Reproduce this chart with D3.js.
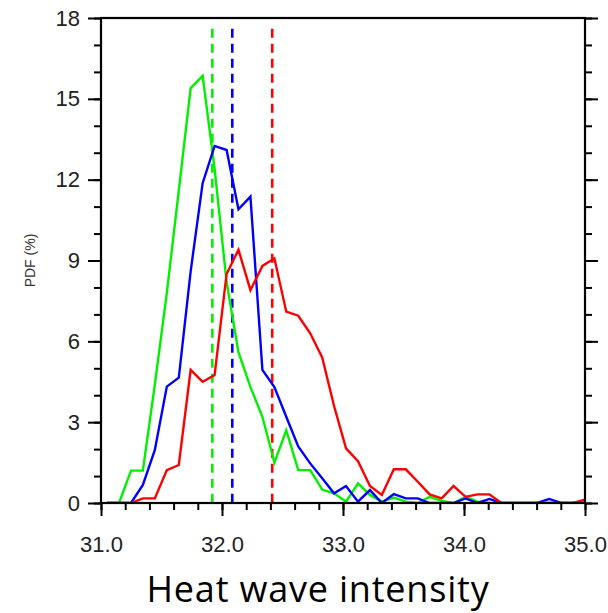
<!DOCTYPE html>
<html lang="en">
<head>
  <meta charset="UTF-8">
  <title>Heat wave intensity PDF</title>
  <style>
    body { margin: 0; background: #fff; }
    svg { display: block; }
  </style>
</head>
<body>
  <svg id="svg" width="608" height="613"></svg>

  <script src="https://d3js.org/d3.v7.min.js"></script>
  <script>
    // bin centres (intensity)
    const binX = [
      31.050, 31.149, 31.248, 31.346, 31.445, 31.544, 31.643, 31.741, 31.840, 31.939,
      32.038, 32.136, 32.235, 32.334, 32.433, 32.531, 32.630, 32.729, 32.828, 32.926,
      33.025, 33.124, 33.223, 33.321, 33.420, 33.519, 33.618, 33.716, 33.815, 33.914,
      34.013, 34.111, 34.210, 34.309, 34.408, 34.506, 34.605, 34.704, 34.803, 34.901,
      35.000
    ]

    // PDF (%) of each run
    const greenPdf = [
      0, 0, 1.2, 1.2, 4.4, 7.8, 11.6, 15.4, 15.85, 12.4,
      8.2, 5.6, 4.3, 3.2, 1.5, 2.7, 1.22, 1.22, 0.5, 0.36,
      0.05, 0.73, 0.3, 0.05, 0.2, 0.05, 0, 0.23, 0.08, 0,
      0.23, 0.05, 0, 0, 0, 0, 0, 0, 0, 0,
      0
    ]
    const bluePdf = [
      0, 0, 0, 0.67, 1.97, 4.32, 4.65, 8.6, 11.87, 13.25,
      13.1, 10.9, 11.37, 4.94, 4.3, 3.2, 2.1, 1.47, 0.92, 0.36,
      0.63, 0.05, 0.48, 0, 0.33, 0.17, 0.17, 0, 0, 0,
      0.17, 0, 0.15, 0, 0, 0, 0, 0.15, 0, 0,
      0
    ]
    const redPdf = [
      0, 0, 0, 0.17, 0.17, 1.22, 1.41, 4.94, 4.5, 4.75,
      8.5, 9.4, 7.9, 8.8, 9.08, 7.1, 6.95, 6.3, 5.4, 3.6,
      2.03, 1.55, 0.63, 0.3, 1.25, 1.25, 0.79, 0.32, 0.17, 0.63,
      0.23, 0.32, 0.32, 0, 0, 0, 0, 0, 0, 0,
      0.12
    ]

    // mean of each run (dashed lines)
    const seriesColors = ['#00f000', '#0000ff', '#ff0000']
    const seriesMeans = [31.92, 32.085, 32.415]
    const meanTop = 17.6

    // tick labels
    const xTicks = [31.0, 32.0, 33.0, 34.0, 35.0]
    const yTicks = [0, 3, 6, 9, 12, 15, 18]

    const svg = d3.select('#svg')

    const x = d3.scaleLinear().domain([31, 35]).range([101, 585])
    const y = d3.scaleLinear().domain([0, 18]).range([503, 18])

    const fontTicks = '"Liberation Sans", Arial, Helvetica, sans-serif'

    // clip the curves to the plot box
    svg.append('clipPath').attr('id', 'plotClip')
      .append('rect')
      .attr('x', x(31)).attr('y', y(18))
      .attr('width', x(35) - x(31)).attr('height', y(0) - y(18))

    // dashed mean lines
    svg.append('g')
      .selectAll('line')
      .data(seriesMeans)
      .join('line')
      .attr('x1', d => x(d)).attr('x2', d => x(d))
      .attr('y1', y(meanTop)).attr('y2', y(0))
      .attr('stroke', (d, i) => seriesColors[i])
      .attr('stroke-width', 2.6)
      .attr('stroke-dasharray', '9,6')

    // curves
    const line = d3.line()
      .x((d, i) => x(binX[i]))
      .y(d => y(d))

    svg.append('g')
      .attr('clip-path', 'url(#plotClip)')
      .selectAll('path')
      .data([greenPdf, bluePdf, redPdf])
      .join('path')
      .attr('d', d => line(d))
      .attr('fill', 'none')
      .attr('stroke', (d, i) => seriesColors[i])
      .attr('stroke-width', 2.4)
      .attr('stroke-linejoin', 'miter')

    // minor ticks
    const xMinor = d3.range(31, 35.001, 0.2)
    const yMinor = d3.range(0, 18.001, 1)

    svg.append('g')
      .attr('transform', `translate(0,${y(0)})`)
      .call(d3.axisBottom(x).tickValues(xMinor).tickSize(7).tickFormat(''))
    svg.append('g')
      .attr('transform', `translate(${x(31)},0)`)
      .call(d3.axisLeft(y).tickValues(yMinor).tickSize(7).tickFormat(''))
    svg.append('g')
      .attr('transform', `translate(${x(35)},0)`)
      .call(d3.axisRight(y).tickValues(yMinor).tickSize(7).tickFormat(''))

    // major ticks + labels
    svg.append('g')
      .attr('transform', `translate(0,${y(0)})`)
      .call(d3.axisBottom(x).tickValues(xTicks).tickSize(13).tickPadding(20)
        .tickFormat(d3.format('.1f')))
    svg.append('g')
      .attr('transform', `translate(${x(31)},0)`)
      .call(d3.axisLeft(y).tickValues(yTicks).tickSize(13).tickPadding(8))
    svg.append('g')
      .attr('transform', `translate(${x(35)},0)`)
      .call(d3.axisRight(y).tickValues(yTicks).tickSize(13).tickFormat(''))

    svg.selectAll('.domain').remove()
    svg.selectAll('.tick line').attr('stroke', '#000').attr('stroke-width', 2)
    svg.selectAll('.tick text')
      .attr('font-family', fontTicks)
      .attr('font-size', 22)
      .attr('fill', '#222')

    // frame
    svg.append('rect')
      .attr('x', x(31)).attr('y', y(18))
      .attr('width', x(35) - x(31)).attr('height', y(0) - y(18))
      .attr('fill', 'none')
      .attr('stroke', '#000')
      .attr('stroke-width', 2.2)

    // y title
    svg.append('text')
      .attr('transform', `translate(35,${(y(0) + y(18)) / 2}) rotate(-90)`)
      .attr('text-anchor', 'middle')
      .attr('font-family', fontTicks)
      .attr('font-size', 14)
      .attr('fill', '#333')
      .text('PDF (%)')

    // x title
    svg.append('text')
      .attr('x', 318)
      .attr('y', 602)
      .attr('text-anchor', 'middle')
      .attr('font-family', '"Open Sans", Lato, sans-serif')
      .attr('font-size', 36)
      .attr('letter-spacing', 0.8)
      .attr('fill', '#000')
      .text('Heat wave intensity')
  </script>
</body>
</html>
